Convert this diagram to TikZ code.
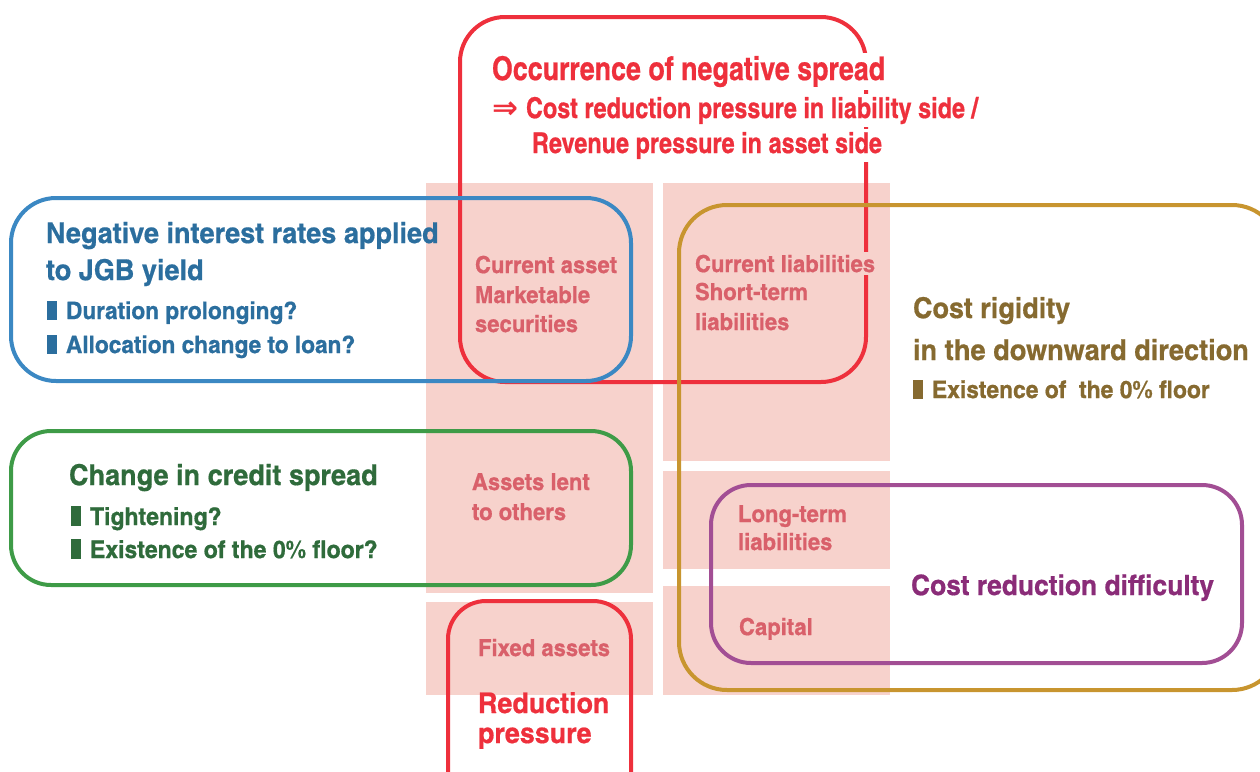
\documentclass[tikz,border=0pt]{standalone}
\usepackage{fontspec}
\setmainfont{texgyreheroscn-bold}[Extension=.otf, FakeStretch=1.15, FakeBold=0.6]
\newfontfamily\plainf{texgyreheroscn-bold}[Extension=.otf, FakeBold=0.6]
\newfontfamily\arrfont{DejaVu Sans}
\definecolor{pinkfill}{HTML}{F7D2CC}
\definecolor{pinktext}{HTML}{D9606A}
\definecolor{redc}{HTML}{EE303C}
\definecolor{bluec}{HTML}{3B88C3}
\definecolor{bluet}{HTML}{2B6E9E}
\definecolor{greenc}{HTML}{3E9B47}
\definecolor{greent}{HTML}{2F6B3B}
\definecolor{goldc}{HTML}{C8952F}
\definecolor{goldt}{HTML}{866A30}
\definecolor{purc}{HTML}{A24E94}
\definecolor{purt}{HTML}{8A2C78}
\newcommand\myfs[1]{\fontsize{#1}{#1}\selectfont}
\newcommand\mybul{\rule[-1pt]{10pt}{0.8em}\hspace{9pt}}
\tikzset{
  frame/.style={line width=4pt, rounded corners=#1},
  txt/.style={anchor=base west, inner sep=0pt, outer sep=0pt},
  ko/.style={fill=#1, inner xsep=0pt, inner ysep=3pt},
  pinklbl/.style={txt, text=pinktext, font=\myfs{23.4}},
}
\begin{document}
\begin{tikzpicture}[x=1pt,y=-1pt]
\useasboundingbox (0,0) rectangle (1260,771);
\clip (0,0) rectangle (1260,771);
% pink blocks
\fill[pinkfill] (426,183) rectangle (653,593);
\fill[pinkfill] (426,602) rectangle (653,695);
\fill[pinkfill] (663,183) rectangle (890,461);
\fill[pinkfill] (663,471) rectangle (890,569);
\fill[pinkfill] (663,586) rectangle (890,695);
% frames
\draw[frame=45pt, redc] (460,17) rectangle (866,382);
\draw[frame=45pt, bluec] (11,198) rectangle (631,381);
\draw[frame=40pt, greenc] (11,431) rectangle (631,585);
\draw[frame=48pt, goldc] (679,205) rectangle (1280,690);
\draw[frame=40pt, purc] (711,485) rectangle (1242,663);
\draw[frame=38pt, redc] (448,601) rectangle (631,810);
% red top texts
\node[txt, ko=white, text=redc, font=\plainf\myfs{32.7}] (neg) at (492,80) {Occurrence of negative spread};
\node[txt, ko=white, text=redc, font=\plainf\myfs{28.6}] (costp) at (492,118) {{\arrfont\bfseries\myfs{31}⇒}\hspace{8pt}Cost reduction pressure in liability side /};
\node[txt, ko=white, text=redc, font=\plainf\myfs{28.6}] (revp) at (532,153) {Revenue pressure in asset side};
% blue texts
\node[txt, text=bluet, font=\myfs{28.7}] (b1) at (46,243) {Negative interest rates applied};
\node[txt, text=bluet, font=\myfs{28.7}] (b2) at (46,280) {to JGB yield};
\node[txt, text=bluet, font=\myfs{24}] (b3) at (47,319) {\mybul Duration prolonging?};
\node[txt, text=bluet, font=\myfs{24}] (b4) at (47,353) {\mybul Allocation change to loan?};
% green texts
\node[txt, text=greent, font=\myfs{28.7}] (g1) at (69,485) {Change in credit spread};
\node[txt, text=greent, font=\myfs{24.4}] (g2) at (71,525) {\mybul Tightening?};
\node[txt, text=greent, font=\myfs{24.4}] (g3) at (71,558) {\mybul Existence of the 0\% floor?};
% pink labels
\node[pinklbl] (ca1) at (475,273) {Current asset};
\node[pinklbl] (ca2) at (475,303) {Marketable};
\node[pinklbl] (ca3) at (475,332) {securities};
\node[pinklbl] (al1) at (472,490) {Assets lent};
\node[pinklbl] (al2) at (472,520) {to others};
\node[pinklbl] (fa) at (478,656) {Fixed assets};
\node[pinklbl, ko=pinkfill] (cl1) at (695,272) {Current liabilities};
\node[pinklbl] (cl2) at (695,300) {Short-term};
\node[pinklbl] (cl3) at (695,330) {liabilities};
\node[pinklbl] (lt1) at (738,522) {Long-term};
\node[pinklbl] (lt2) at (738,550) {liabilities};
\node[pinklbl] (cap) at (739,635) {Capital};
% reduction pressure
\node[txt, text=redc, font=\myfs{28.5}] (rp1) at (478,713) {Reduction};
\node[txt, text=redc, font=\myfs{28.5}] (rp2) at (478,743) {pressure};
% gold texts
\node[txt, text=goldt, font=\myfs{28.6}] (go1) at (913,318) {Cost rigidity};
\node[txt, text=goldt, font=\myfs{28.8}] (go2) at (913,360) {in the downward direction};
\node[txt, text=goldt, font=\myfs{24.2}] (go3) at (913,398) {\mybul Existence of\ \ the 0\% floor};
% purple text
\node[txt, text=purt, font=\myfs{28}] (pu1) at (911,595) {Cost reduction difficulty};
\end{tikzpicture}
\end{document}
